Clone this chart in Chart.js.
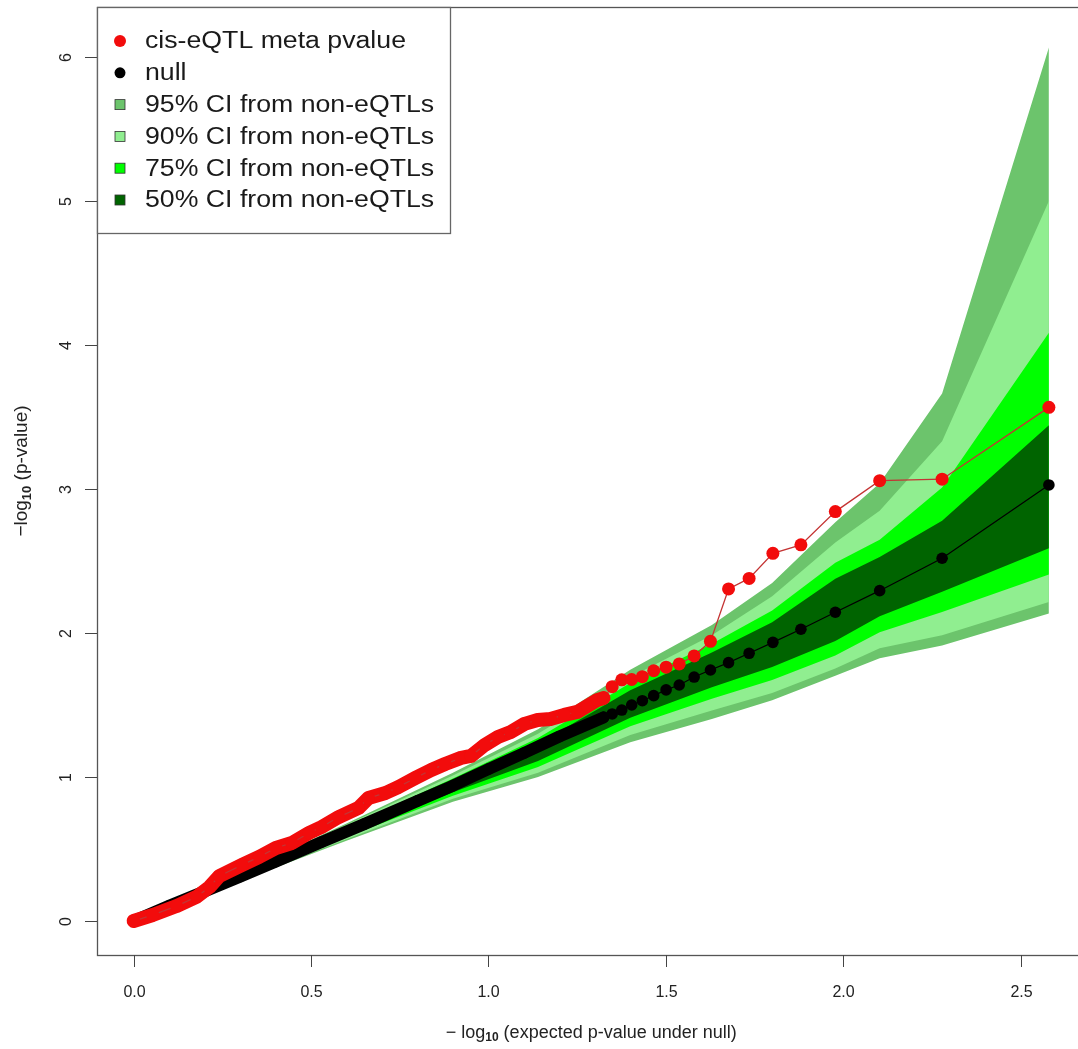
<!DOCTYPE html>
<html>
<head>
<meta charset="utf-8">
<title>QQ plot of cis-eQTL meta p-values</title>
<script src="https://cdn.jsdelivr.net/npm/chart.js@4.4.1/dist/chart.umd.min.js"></script>
<style>
  html, body { margin: 0; padding: 0; background: #fff; overflow: hidden; width: 1078px; height: 1049px; }
  canvas { display: block; }
</style>
</head>
<body>
<canvas id="qq" width="1092" height="1049" style="width:1092px;height:1049px"></canvas>
<script>
// Observed cis-eQTL meta p-values: expected -log10(p) vs observed -log10(p)
const redX = [0, 0.054, 0.121, 0.177, 0.214, 0.242, 0.306, 0.354, 0.401, 0.446, 0.494, 0.530, 0.578, 0.634, 0.662, 0.710, 0.746, 0.794, 0.839, 0.878, 0.923, 0.951, 0.990, 1.027, 1.063, 1.102, 1.139, 1.175, 1.214, 1.251, 1.279, 1.307, 1.3245, 1.349, 1.376, 1.404, 1.434, 1.466, 1.501, 1.538, 1.580, 1.626, 1.677, 1.735, 1.802, 1.881, 1.978, 2.103, 2.279, 2.580];
const redY = [0, 0.042, 0.104, 0.167, 0.236, 0.313, 0.390, 0.445, 0.507, 0.542, 0.611, 0.653, 0.722, 0.785, 0.854, 0.889, 0.930, 0.993, 1.049, 1.090, 1.133, 1.146, 1.223, 1.278, 1.312, 1.369, 1.396, 1.403, 1.431, 1.452, 1.493, 1.534, 1.548, 1.627, 1.675, 1.677, 1.697, 1.738, 1.763, 1.785, 1.841, 1.942, 2.306, 2.379, 2.553, 2.612, 2.843, 3.058, 3.068, 3.567];

// Null expectation
const nullX = [0, 0.1, 0.2, 0.3, 0.4, 0.53, 0.65, 0.8, 0.9, 1.0, 1.1, 1.2, 1.3245, 1.349, 1.376, 1.404, 1.434, 1.466, 1.501, 1.538, 1.580, 1.626, 1.677, 1.735, 1.802, 1.881, 1.978, 2.103, 2.279, 2.580];
const nullY = [0, 0.105, 0.206, 0.308, 0.412, 0.549, 0.673, 0.834, 0.940, 1.055, 1.166, 1.281, 1.414, 1.438, 1.465, 1.500, 1.530, 1.565, 1.605, 1.639, 1.694, 1.743, 1.794, 1.859, 1.935, 2.026, 2.144, 2.294, 2.519, 3.028];

// Confidence envelopes from non-eQTLs
const bandX  = [0, 0.3, 0.6, 0.9, 1.14, 1.40, 1.63, 1.80, 1.978, 2.103, 2.279, 2.580];
const ci95Hi = [0, 0.337, 0.678, 1.030, 1.332, 1.744, 2.055, 2.347, 2.769, 3.040, 3.663, 6.065];
const ci90Hi = [0, 0.332, 0.668, 1.010, 1.301, 1.693, 1.985, 2.256, 2.628, 2.849, 3.332, 4.999];
const ci75Hi = [0, 0.325, 0.653, 0.990, 1.271, 1.653, 1.925, 2.156, 2.487, 2.648, 3.010, 4.085];
const ci50Hi = [0, 0.317, 0.638, 0.965, 1.231, 1.603, 1.864, 2.075, 2.377, 2.528, 2.779, 3.442];
const ci50Lo = [0, 0.296, 0.598, 0.894, 1.111, 1.412, 1.623, 1.764, 1.945, 2.116, 2.286, 2.588];
const ci75Lo = [0, 0.289, 0.583, 0.869, 1.070, 1.352, 1.543, 1.673, 1.844, 2.005, 2.146, 2.407];
const ci90Lo = [0, 0.283, 0.568, 0.849, 1.030, 1.291, 1.462, 1.583, 1.754, 1.894, 1.985, 2.216];
const ci95Lo = [0, 0.278, 0.558, 0.829, 1.000, 1.241, 1.402, 1.533, 1.703, 1.824, 1.914, 2.136];

const xTicks = [0, 0.5, 1.0, 1.5, 2.0, 2.5];
const xTickLabels = ['0.0', '0.5', '1.0', '1.5', '2.0', '2.5'];
const yTicks = [0, 1, 2, 3, 4, 5, 6];
const yTickLabels = ['0', '1', '2', '3', '4', '5', '6'];

const seriesLabels = ['cis-eQTL meta pvalue', 'null'];
const bandLabels = ['95% CI from non-eQTLs', '90% CI from non-eQTLs', '75% CI from non-eQTLs', '50% CI from non-eQTLs'];

const RED = '#f20c0c';
const BLACK = '#000000';
const bandColors = ['#6cc46c', '#90ee90', '#00ff00', '#006400'];
const FONT = '"Liberation Sans", Arial, Helvetica, sans-serif';
const DENSE_MAX = 1.33;   // below this the points overlap into a solid trace

function pts(xs, ys) { return xs.map((x, i) => ({ x: x, y: ys[i] })); }

function bandPair(hi, lo, color, order, label) {
  return [
    { label: label, data: pts(bandX, hi), borderWidth: 0, borderColor: 'transparent',
      backgroundColor: color, pointRadius: 0, fill: '+1', order: order },
    { label: label + ' (lower)', data: pts(bandX, lo), borderWidth: 0, borderColor: 'transparent',
      backgroundColor: color, pointRadius: 0, fill: false, order: order }
  ];
}

const redPts = pts(redX, redY);
const nullPts = pts(nullX, nullY);

const datasets = [
  ...bandPair(ci95Hi, ci95Lo, bandColors[0], 7, bandLabels[0]),
  ...bandPair(ci90Hi, ci90Lo, bandColors[1], 6, bandLabels[1]),
  ...bandPair(ci75Hi, ci75Lo, bandColors[2], 5, bandLabels[2]),
  ...bandPair(ci50Hi, ci50Lo, bandColors[3], 4, bandLabels[3]),
  { label: 'null trace', data: nullPts.filter(p => p.x <= DENSE_MAX), borderColor: BLACK, borderWidth: 12,
    borderCapStyle: 'round', borderJoinStyle: 'round', pointRadius: 0, fill: false, order: 3 },
  { label: seriesLabels[1], data: nullPts, borderColor: BLACK, borderWidth: 1.2,
    pointRadius: 5.8, pointBackgroundColor: BLACK, pointBorderWidth: 0, fill: false, order: 2 },
  { label: 'eQTL trace', data: redPts.filter(p => p.x <= DENSE_MAX), borderColor: RED, borderWidth: 14,
    borderCapStyle: 'round', borderJoinStyle: 'round', pointRadius: 0, fill: false, order: 1 },
  { label: seriesLabels[0], data: redPts, borderColor: '#c43434', borderWidth: 1.3,
    pointRadius: 6.5, pointBackgroundColor: RED, pointBorderWidth: 0, fill: false, order: 0 }
];

// Text with a subscript segment, e.g. -log10
function subFont(p, size) {
  return (p.sub ? 'bold ' + Math.round(size * 0.68) : size) + 'px ' + FONT;
}
function drawSubText(ctx, parts, size, cx, cy) {
  let w = 0;
  for (const p of parts) { ctx.font = subFont(p, size); w += ctx.measureText(p.t).width; }
  let x = cx - w / 2;
  ctx.textAlign = 'left';
  ctx.textBaseline = 'middle';
  for (const p of parts) {
    ctx.font = subFont(p, size);
    ctx.fillText(p.t, x, cy + (p.sub ? size * 0.28 : 0));
    x += ctx.measureText(p.t).width;
  }
}

const framePlugin = {
  id: 'frame',
  afterDatasetsDraw(chart) {
    const a = chart.chartArea, ctx = chart.ctx;
    ctx.save();
    ctx.strokeStyle = '#555';
    ctx.lineWidth = 1.3;
    ctx.strokeRect(a.left + 0.5, a.top + 0.5, a.right - a.left, a.bottom - a.top);
    ctx.restore();
  }
};

const axesPlugin = {
  id: 'rAxes',
  afterDraw(chart) {
    const ctx = chart.ctx, a = chart.chartArea;
    const xs = chart.scales.x, ys = chart.scales.y;
    ctx.save();
    ctx.strokeStyle = '#444';
    ctx.fillStyle = '#222';
    ctx.lineWidth = 1;
    // x axis ticks and labels
    ctx.font = '16px ' + FONT;
    ctx.textAlign = 'center';
    ctx.textBaseline = 'middle';
    xTicks.forEach((t, i) => {
      const px = Math.round(xs.getPixelForValue(t)) + 0.5;
      ctx.beginPath(); ctx.moveTo(px, a.bottom); ctx.lineTo(px, a.bottom + 12); ctx.stroke();
      ctx.fillText(xTickLabels[i], px, a.bottom + 38);
    });
    // y axis ticks and rotated labels
    yTicks.forEach((t, i) => {
      const py = Math.round(ys.getPixelForValue(t)) + 0.5;
      ctx.beginPath(); ctx.moveTo(a.left - 12, py); ctx.lineTo(a.left, py); ctx.stroke();
      ctx.save();
      ctx.translate(a.left - 30, py);
      ctx.rotate(-Math.PI / 2);
      ctx.textAlign = 'center';
      ctx.textBaseline = 'middle';
      ctx.fillText(yTickLabels[i], 0, 0);
      ctx.restore();
    });
    // axis titles
    drawSubText(ctx, [{ t: '\u2212 log' }, { t: '10', sub: true }, { t: ' (expected p-value under null)' }],
      18, (a.left + a.right) / 2, a.bottom + 78);
    ctx.save();
    ctx.translate(22, (a.top + a.bottom) / 2 - 10);
    ctx.rotate(-Math.PI / 2);
    drawSubText(ctx, [{ t: '\u2212log' }, { t: '10', sub: true }, { t: ' (p-value)' }], 19, 0, 0);
    ctx.restore();
    ctx.restore();
  }
};

const legendPlugin = {
  id: 'rLegend',
  afterDraw(chart) {
    const ctx = chart.ctx, a = chart.chartArea;
    const bx = a.left, by = a.top, bw = 353, bh = 226;
    ctx.save();
    ctx.fillStyle = '#fff';
    ctx.fillRect(bx, by, bw, bh);
    ctx.strokeStyle = '#666';
    ctx.lineWidth = 1.3;
    ctx.strokeRect(bx + 0.5, by + 0.5, bw, bh);
    const rowY0 = by + 34, step = 31.8, mx = bx + 23, tx = bx + 48;
    const entries = [
      { text: seriesLabels[0], kind: 'dot', color: RED, r: 6 },
      { text: seriesLabels[1], kind: 'dot', color: BLACK, r: 5.5 },
      { text: bandLabels[0], kind: 'box', color: bandColors[0] },
      { text: bandLabels[1], kind: 'box', color: bandColors[1] },
      { text: bandLabels[2], kind: 'box', color: bandColors[2] },
      { text: bandLabels[3], kind: 'box', color: bandColors[3] }
    ];
    entries.forEach((e, i) => {
      const cy = rowY0 + i * step;
      if (e.kind === 'dot') {
        ctx.fillStyle = e.color;
        ctx.beginPath(); ctx.arc(mx, cy, e.r, 0, Math.PI * 2); ctx.fill();
      } else {
        ctx.fillStyle = e.color;
        ctx.fillRect(mx - 5, cy - 5, 10, 10);
        ctx.strokeStyle = '#333';
        ctx.lineWidth = 0.8;
        ctx.strokeRect(mx - 5, cy - 5, 10, 10);
      }
      ctx.save();
      ctx.translate(tx, cy + 1);
      ctx.scale(1.16, 1);
      ctx.fillStyle = '#1a1a1a';
      ctx.font = '23px ' + FONT;
      ctx.textAlign = 'left';
      ctx.textBaseline = 'middle';
      ctx.fillText(e.text, 0, 0);
      ctx.restore();
    });
    ctx.restore();
  }
};

new Chart(document.getElementById('qq'), {
  type: 'line',
  data: { datasets: datasets },
  options: {
    responsive: false,
    animation: false,
    devicePixelRatio: 1,
    layout: { padding: { left: 97, top: 7, right: 1, bottom: 94 } },
    scales: {
      x: { type: 'linear', display: false, min: -0.1032, max: 2.6832 },
      y: { type: 'linear', display: false, min: -0.236, max: 6.347 }
    },
    plugins: {
      legend: { display: false },
      tooltip: { enabled: false },
      filler: { propagate: false }
    },
    elements: { line: { tension: 0 } }
  },
  plugins: [framePlugin, axesPlugin, legendPlugin]
});
</script>
</body>
</html>
